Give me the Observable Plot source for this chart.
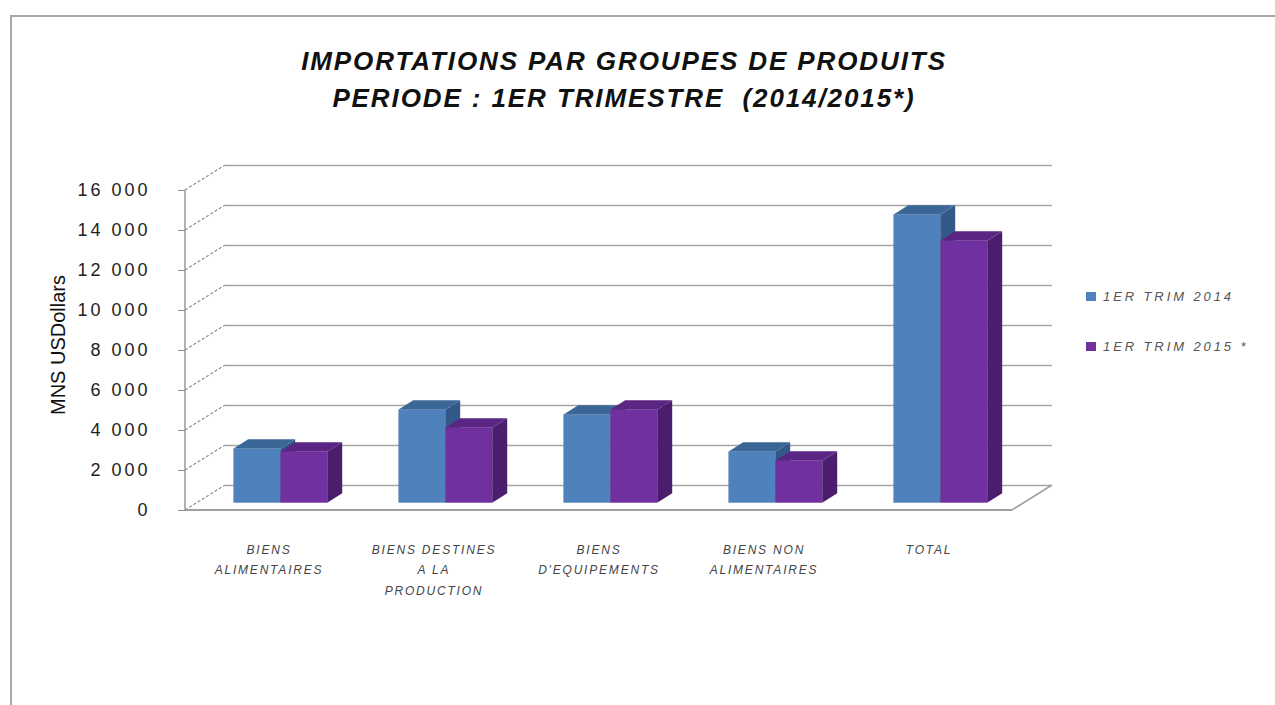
<!DOCTYPE html>
<html>
<head>
<meta charset="utf-8">
<script src="https://cdn.jsdelivr.net/npm/d3@7"></script>
<script src="https://cdn.jsdelivr.net/npm/@observablehq/plot@0.6"></script>
<style>
  body { margin: 0; background: #fff; }
  #wrap { position: relative; width: 1275px; height: 705px; overflow: hidden; background: #fff; }
  #frame { position: absolute; left: 10px; top: 15px; right: -5px; bottom: -5px;
           border-left: 2px solid #a8a8a8; border-top: 2px solid #a8a8a8; }
  #title { position: absolute; left: 0; width: 1248px; top: 43px; text-align: center;
           font: italic bold 26px "Liberation Sans", Arial, sans-serif; line-height: 37px;
           letter-spacing: 1.9px; color: #111; white-space: pre; }
  #chart { position: absolute; left: 0; top: 130px; }
  #ytitle { position: absolute; left: 58px; top: 345px; transform: translate(-50%, -50%) rotate(-90deg);
            font: 20px "Liberation Sans", Arial, sans-serif; color: #111; white-space: nowrap; }
  #legend { position: absolute; left: 1086px; top: 286px;
            font: italic 13px "Liberation Sans", Arial, sans-serif; color: #555; letter-spacing: 2.9px; }
  .li { display: flex; align-items: center; height: 20px; margin-bottom: 30px; white-space: nowrap; }
  .sw { display: inline-block; width: 10px; height: 9px; margin-right: 7px; }
</style>
</head>
<body>
<div id="wrap">
  <div id="frame"></div>
  <div id="title"></div>
  <div id="chart"></div>
  <div id="ytitle"></div>
  <div id="legend"></div>
</div>
<script>
// ---- data ----
const categories = ["BIENS ALIMENTAIRES", "BIENS DESTINES A LA PRODUCTION", "BIENS D'EQUIPEMENTS", "BIENS NON ALIMENTAIRES", "TOTAL"];
const xTickLabels = ["BIENS\nALIMENTAIRES", "BIENS DESTINES\nA LA\nPRODUCTION", "BIENS\nD'EQUIPEMENTS", "BIENS NON\nALIMENTAIRES", "TOTAL"];
const seriesNames = ["1ER TRIM 2014", "1ER TRIM 2015 *"];
const values2014 = [2700, 4650, 4400, 2550, 14400];
const values2015 = [2550, 3750, 4650, 2100, 13100];
const yTicks = [0, 2000, 4000, 6000, 8000, 10000, 12000, 14000, 16000];
const titleLines = ["IMPORTATIONS PAR GROUPES DE PRODUITS", "PERIODE : 1ER TRIMESTRE  (2014/2015*)"];
const yTitle = "MNS USDollars";

// ---- styles ----
const frontColors = ["#4f81bd", "#7030a0"];
const topColors = ["#3b6797", "#5a2583"];
const sideColors = ["#33598a", "#4a1d6d"];

const rows2014 = categories.map((c, i) => ({cat: c, value: values2014[i]}));
const rows2015 = categories.map((c, i) => ({cat: c, value: values2015[i]}));

const W = 1275, H = 575, mL = 185, mR = 263, mT = 60, mB = 195;
const bw = (W - mL - mR) / categories.length;
const wallDX = 40, wallDY = -25;      // back wall offset
const barDX = 11.7, barDY = -7.3;     // bar front-face depth offset
const depthDX = 15, depthDY = -9.4;   // bar thickness
const barW = 47;

const fmt = d3.formatLocale({thousands: " ", grouping: [3], decimal: ","}).format(",");
const NS = "http://www.w3.org/2000/svg";
function el(tag, attrs) {
  const e = document.createElementNS(NS, tag);
  for (const k in attrs) e.setAttribute(k, attrs[k]);
  return e;
}

// walls / floor / front axis line drawn through the scales
function wallDecor(index, scales, values, dims) {
  const y = scales.y;
  const g = el("g", {"aria-label": "walls"});
  const x0 = dims.marginLeft, x1 = dims.width - dims.marginRight;
  for (const t of yTicks) {
    g.appendChild(el("line", {x1: x0, y1: y(t), x2: x0 + wallDX, y2: y(t) + wallDY,
      stroke: "#8c8c8c", "stroke-width": 1.2, "stroke-dasharray": "3,2"}));
  }
  g.appendChild(el("line", {x1: x0, y1: y(0), x2: x1, y2: y(0), stroke: "#a0a0a0", "stroke-width": 2}));
  g.appendChild(el("line", {x1: x1, y1: y(0), x2: x1 + wallDX, y2: y(0) + wallDY, stroke: "#a0a0a0", "stroke-width": 1.5}));
  g.appendChild(el("line", {x1: x0, y1: y(0), x2: x0, y2: y(16000), stroke: "#9a9a9a", "stroke-width": 1.5}));
  return g;
}

// top and side faces of the 3D bars
function faces(rows, s) {
  return (index, scales) => {
    const {x, y} = scales;
    const g = el("g", {"aria-label": "bar faces " + s});
    for (const r of rows) {
      const center = x(r.cat) + x.bandwidth() / 2 + barDX;
      const L = s === 0 ? center - barW : center;
      const R = L + barW;
      const T = y(r.value) + barDY, B = y(0) + barDY;
      g.appendChild(el("polygon", {
        points: [[R, T], [R + depthDX, T + depthDY], [R + depthDX, B + depthDY], [R, B]].map(p => p.join(",")).join(" "),
        fill: sideColors[s]}));
      g.appendChild(el("polygon", {
        points: [[L, T], [R, T], [R + depthDX, T + depthDY], [L + depthDX, T + depthDY]].map(p => p.join(",")).join(" "),
        fill: topColors[s]}));
    }
    return g;
  };
}

const plot = Plot.plot({
  width: W, height: H,
  marginLeft: mL, marginRight: mR, marginTop: mT, marginBottom: mB,
  style: {fontFamily: "Liberation Sans, Arial, sans-serif", background: "transparent", overflow: "visible"},
  x: {type: "band", domain: categories, padding: 0, axis: null},
  y: {domain: [0, 16000], axis: null},
  marks: [
    Plot.ruleY(yTicks, {dx: wallDX, dy: wallDY, stroke: "#a6a6a6", strokeWidth: 1.5}),
    wallDecor,
    faces(rows2014, 0),
    Plot.barY(rows2014, {x: "cat", y: "value", fill: frontColors[0], dx: barDX, dy: barDY,
      insetLeft: bw / 2 - barW, insetRight: bw / 2}),
    faces(rows2015, 1),
    Plot.barY(rows2015, {x: "cat", y: "value", fill: frontColors[1], dx: barDX, dy: barDY,
      insetLeft: bw / 2, insetRight: bw / 2 - barW}),
    Plot.axisY({ticks: yTicks, tickSize: 7, tickPadding: 28, tickFormat: fmt, fontSize: 18,
      stroke: "#8c8c8c", fill: "#222", label: null}),
    Plot.axisX({tickSize: 0, tickPadding: 29, fontSize: 12, fontStyle: "italic", lineHeight: 1.7,
      fill: "#444", label: null, tickFormat: d => xTickLabels[categories.indexOf(d)]})
  ]
});
document.getElementById("chart").appendChild(plot);

// letter spacing for axis texts
d3.select(plot).selectAll('g[aria-label^="y-axis"] text').attr("letter-spacing", "3px");
d3.select(plot).selectAll('g[aria-label^="x-axis"] text').attr("letter-spacing", "1.8px").attr("font-style", "italic");

document.getElementById("title").textContent = titleLines.join("\n");
document.getElementById("ytitle").textContent = yTitle;
const legend = document.getElementById("legend");
seriesNames.forEach((n, i) => {
  const row = document.createElement("div");
  row.className = "li";
  const sw = document.createElement("span");
  sw.className = "sw";
  sw.style.background = frontColors[i];
  row.appendChild(sw);
  row.appendChild(document.createTextNode(n));
  legend.appendChild(row);
});
</script>
</body>
</html>
